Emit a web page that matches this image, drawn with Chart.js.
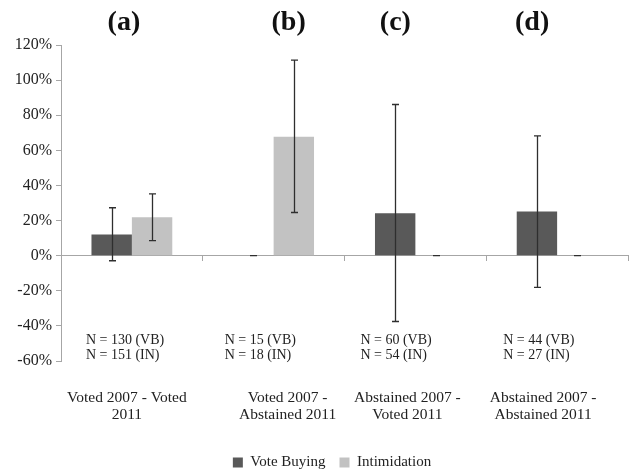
<!DOCTYPE html>
<html><head><meta charset="utf-8">
<script src="https://cdn.jsdelivr.net/npm/chart.js@4/dist/chart.umd.min.js"></script>
<style>html,body{margin:0;padding:0;background:#fff}#wrap{width:631px;height:470px}</style>
</head><body><div id="wrap"><canvas id="c" width="631" height="470"></canvas></div>
<script>
// ---- data ----
const categories = [["Voted 2007 - Voted","2011"],["Voted 2007 -","Abstained 2011"],["Abstained 2007 -","Voted 2011"],["Abstained 2007 -","Abstained 2011"]];
const panelTitles = ["(a)","(b)","(c)","(d)"];
const sampleSizes = [["N = 130 (VB)","N = 151 (IN)"],["N = 15 (VB)","N = 18 (IN)"],["N = 60 (VB)","N = 54 (IN)"],["N = 44 (VB)","N = 27 (IN)"]];
const seriesNames = ["Vote Buying","Intimidation"];
const voteBuying = [12.0, 0, 24.2, 25.1];
const voteBuyingLow = [-2.9, 0, -37.5, -18.1];
const voteBuyingHigh = [27.3, 0, 86.1, 68.2];
const intimidation = [21.9, 67.8, 0, 0];
const intimidationLow = [8.6, 24.6, 0, 0];
const intimidationHigh = [35.2, 111.4, 0, 0];
const yMin = -60, yMax = 120, yStep = 20;

// ---- layout / style (not data) ----
const SERIF = '"Liberation Serif","Times New Roman",serif';
const titleShift = [-8, 15, -20, -25];
const nLeftShift = [-46, -49, -55, -54];
const catShift = [-5, 14, -8, -14];
const AXIS = '#a6a6a6';
const TXT = '#222';

const errorBars = [[voteBuyingLow, voteBuyingHigh],[intimidationLow, intimidationHigh]];

const errorPlugin = {
  id: 'errorBars',
  afterLayout(chart) {
    // let the y tick labels use the space left of the axis box (avoid clipping)
    chart.scales.y.left = 0;
  },
  afterDatasetsDraw(chart) {
    const ctx = chart.ctx, ys = chart.scales.y;
    ctx.save();
    ctx.strokeStyle = '#2e2e2e';
    ctx.lineWidth = 1.3;
    chart.data.datasets.forEach((ds, i) => {
      const meta = chart.getDatasetMeta(i);
      meta.data.forEach((el, j) => {
        const x = Math.round(el.x) + 0.5;
        const lo = ys.getPixelForValue(errorBars[i][0][j]);
        const hi = ys.getPixelForValue(errorBars[i][1][j]);
        ctx.beginPath();
        ctx.moveTo(x, lo); ctx.lineTo(x, hi);
        ctx.moveTo(x - 3.5, lo); ctx.lineTo(x + 3.5, lo);
        ctx.moveTo(x - 3.5, hi); ctx.lineTo(x + 3.5, hi);
        ctx.stroke();
      });
    });
    ctx.restore();
  }
};

const textPlugin = {
  id: 'panelText',
  afterDraw(chart) {
    const ctx = chart.ctx, xs = chart.scales.x;
    ctx.save();
    ctx.fillStyle = '#111';
    ctx.textBaseline = 'middle';
    ctx.textAlign = 'center';
    ctx.font = 'bold 28px ' + SERIF;
    panelTitles.forEach((t, i) => ctx.fillText(t, xs.getPixelForValue(i) + titleShift[i], 23));
    ctx.fillStyle = TXT;
    ctx.font = '14px ' + SERIF;
    ctx.textAlign = 'left';
    sampleSizes.forEach((lines, i) => {
      lines.forEach((l, k) => ctx.fillText(l, xs.getPixelForValue(i) + nLeftShift[i], 340 + k * 15.5));
    });
    ctx.font = '15.5px ' + SERIF;
    ctx.textAlign = 'center';
    categories.forEach((lines, i) => {
      lines.forEach((l, k) => ctx.fillText(l, xs.getPixelForValue(i) + catShift[i], 398 + k * 17));
    });
    ctx.restore();
  }
};

new Chart(document.getElementById('c'), {
  type: 'bar',
  data: {
    labels: categories,
    datasets: [
      { label: seriesNames[0], data: voteBuying, backgroundColor: '#595959', borderWidth: 0 },
      { label: seriesNames[1], data: intimidation, backgroundColor: '#c2c2c2', borderWidth: 0 }
    ]
  },
  options: {
    responsive: false,
    devicePixelRatio: 1,
    animation: false,
    categoryPercentage: 0.57,
    barPercentage: 1.0,
    layout: { padding: { left: 36, right: 3, top: 45, bottom: -10 } },
    scales: {
      x: {
        type: 'category',
        position: { y: 0 },
        offset: true,
        grid: { display: true, drawOnChartArea: false, offset: true, tickLength: 5, color: AXIS, lineWidth: 1 },
        border: { display: true, color: AXIS, width: 1 },
        ticks: { display: false }
      },
      xb: {
        type: 'category',
        axis: 'x',
        labels: categories,
        position: 'bottom',
        offset: true,
        grid: { display: false, drawTicks: false },
        border: { display: false },
        ticks: { display: false },
        afterFit: s => { s.height = 80; }
      },
      y: {
        min: yMin, max: yMax,
        ticks: { stepSize: yStep, callback: v => v + '%', font: { family: SERIF, size: 16 }, color: TXT, padding: 4 },
        grid: { display: true, drawOnChartArea: false, tickLength: 5, color: AXIS },
        border: { display: true, color: AXIS, width: 1 },
        afterFit: s => { s.width = 25; }
      }
    },
    plugins: {
      legend: {
        position: 'bottom',
        labels: { font: { family: SERIF, size: 15 }, color: TXT, boxWidth: 10, boxHeight: 10, padding: 14 }
      },
      tooltip: { enabled: false }
    }
  },
  plugins: [errorPlugin, textPlugin]
});
</script>
</body></html>
